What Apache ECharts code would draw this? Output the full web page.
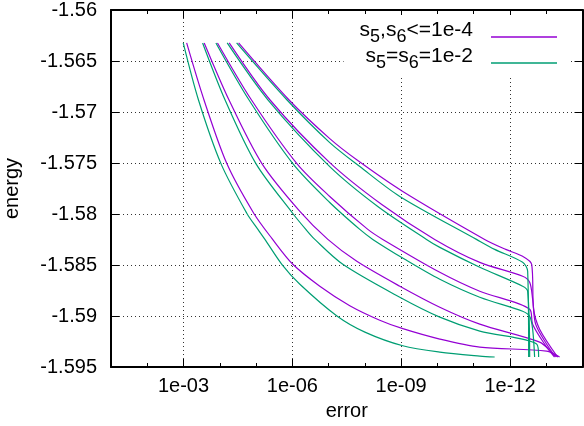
<!DOCTYPE html>
<html>
<head>
<meta charset="utf-8">
<script src="https://cdn.jsdelivr.net/npm/echarts@6/dist/echarts.min.js"></script>
<style>
html, body { margin: 0; padding: 0; background: #fff; }
#graph { width: 584px; height: 426px; }
</style>
</head>
<body>
<div id="graph"></div>
<script>
var chart = echarts.init(document.getElementById('graph'));

var legendNames = ['s5,s6<=1e-4', 's5=s6=1e-2'];
var colors = ['#9400d3', '#009e73'];
var font = 'Liberation Sans, Arial, sans-serif';

// x ticks (log axis, 1e-1 on the left)
var majorTicks = [1e-3, 1e-6, 1e-9, 1e-12];
var minorTicks = [1e-2, 1e-3, 1e-4, 1e-5, 1e-6, 1e-7, 1e-8, 1e-9, 1e-10, 1e-11, 1e-12, 1e-13];

// [error, energy]
var purple1 = [[8.2e-4, -1.56323], [2.74e-4, -1.5688], [6.4e-5, -1.57506], [1.15e-5, -1.57995], [3.67e-6, -1.58239],
    [9.7e-7, -1.58493], [1.75e-7, -1.58708], [2.61e-8, -1.58899],
    [3.89e-9, -1.59041], [9.0e-10, -1.59124], [8.6e-11, -1.59226], [6.8e-12, -1.59305], [9.8e-14, -1.59344], [4.28e-14, -1.59402]];
var purple2 = [[2.69e-4, -1.56323], [5.61e-5, -1.5688], [6.9e-6, -1.57506], [6.2e-7, -1.57975],
    [1.05e-7, -1.58249], [1.67e-8, -1.58464], [1.09e-9, -1.58708], [8.6e-11, -1.58914], [6.8e-12, -1.5908],
    [1.52e-13, -1.59256], [7.1e-14, -1.59354], [4.85e-14, -1.59402]];
var purple3 = [[1.16e-4, -1.56323], [1.35e-5, -1.5688], [7.5e-7, -1.57506], [9.3e-8, -1.57828],
    [8.3e-9, -1.58151], [3.21e-9, -1.58249], [8.6e-11, -1.58571], [6.8e-12, -1.58757], [2.86e-13, -1.58933],
    [2.37e-13, -1.5908], [1.11e-13, -1.59275], [5.9e-14, -1.59402]];
var purple4 = [[5.5e-5, -1.56323], [4.17e-6, -1.5688], [9.3e-8, -1.57496], [3.42e-9, -1.57907],
    [1.19e-10, -1.58249], [6.8e-12, -1.58474], [4.47e-13, -1.5861], [2.86e-13, -1.58669], [2.37e-13, -1.58835],
    [1.96e-13, -1.5908], [9.8e-14, -1.59275], [5.5e-14, -1.59402]];
var purple5 = [[3.03e-5, -1.56323], [1.25e-6, -1.5688], [9.3e-8, -1.57261], [1.57e-8, -1.57476],
    [9.0e-10, -1.57779], [4.98e-12, -1.58249], [1.31e-12, -1.58347], [4.47e-13, -1.58415], [2.52e-13, -1.58493],
    [2.22e-13, -1.58933], [1.52e-13, -1.59129], [4.85e-14, -1.59402]];

var green1 = [[1.02e-3, -1.56323], [3.89e-4, -1.5688], [9.3e-5, -1.57506], [1.79e-5, -1.57995],
    [8.9e-6, -1.58151], [5.7e-6, -1.58249], [1.95e-6, -1.58493], [6.2e-7, -1.58689], [5.9e-8, -1.5900],
    [1.0e-8, -1.59158], [9.0e-10, -1.59292], [8.6e-11, -1.59354], [6.8e-12, -1.59393], [2.64e-12, -1.59402]];
var green2 = [[2.98e-4, -1.56323], [7.2e-5, -1.5688], [1.01e-5, -1.57506], [9.7e-7, -1.57995],
    [4.25e-7, -1.58151], [2.4e-7, -1.58249], [4.06e-8, -1.58493], [1.09e-9, -1.58816], [8.6e-11, -1.59011],
    [6.8e-12, -1.59148], [1.84e-13, -1.59275], [1.62e-13, -1.59402]];
var green3 = [[1.28e-4, -1.56323], [1.58e-5, -1.5688], [9.7e-7, -1.57506], [9.3e-8, -1.57887],
    [1.38e-8, -1.58151], [6.05e-9, -1.58249], [7.96e-10, -1.58444], [8.6e-11, -1.5864], [6.8e-12, -1.58816],
    [4.47e-13, -1.58953], [2.86e-13, -1.59002], [2.37e-13, -1.59129], [2.09e-13, -1.59402]];
var green4 = [[6.25e-5, -1.56323], [4.73e-6, -1.5688], [9.3e-8, -1.57535], [4.41e-9, -1.57926],
    [2.0e-10, -1.58249], [8.6e-11, -1.58327], [6.8e-12, -1.58522], [4.47e-13, -1.58708], [3.25e-13, -1.58757],
    [2.86e-13, -1.59402]];
var green5 = [[3.44e-5, -1.56323], [1.42e-6, -1.5688], [9.3e-8, -1.573], [1.38e-8, -1.57535],
    [1.09e-9, -1.57828], [8.4e-12, -1.58249], [2.64e-12, -1.58347], [4.47e-13, -1.58474], [3.25e-13, -1.58562],
    [3.05e-13, -1.59402]];

var purples = [purple1, purple2, purple3, purple4, purple5];
var greens = [green1, green2, green3, green4, green5];

var black = '#000';
var gridStyle = { color: '#333', width: 1, type: [1, 3] };

function logAxis(pos, ticks, len, main) {
    return {
        type: 'log', logBase: 10, inverse: true, min: 1e-14, max: 1e-1,
        position: pos,
        axisLine: { show: main, onZero: false, lineStyle: { color: black, width: 2 } },
        axisTick: { show: true, inside: true, length: len, customValues: ticks, lineStyle: { color: black, width: 1 } },
        axisLabel: {
            show: main && pos === 'bottom', customValues: ticks, margin: 9,
            color: black, fontSize: 20, fontFamily: font,
            formatter: function (v) {
                var e = -Math.round(Math.log10(v));
                return '1e-' + (e < 10 ? '0' + e : e);
            }
        },
        splitLine: { show: main && pos === 'bottom', lineStyle: gridStyle },
        name: main && pos === 'bottom' ? 'error' : '',
        nameLocation: 'middle', nameGap: 34,
        nameTextStyle: { color: black, fontSize: 20, fontFamily: font }
    };
}

function valueAxis(pos) {
    var left = pos === 'left';
    return {
        type: 'value', min: -1.595, max: -1.56, interval: 0.005, position: pos,
        axisLine: { show: true, lineStyle: { color: black, width: 2 } },
        axisTick: { show: true, inside: true, length: 8, lineStyle: { color: black, width: 1 } },
        axisLabel: { show: left, margin: 14, color: black, fontSize: 20, fontFamily: font },
        splitLine: { show: left, lineStyle: gridStyle },
        name: left ? 'energy' : '',
        nameLocation: 'middle', nameRotate: 90, nameGap: 89,
        nameTextStyle: { color: black, fontSize: 20, fontFamily: font }
    };
}

var series = [];
purples.forEach(function (d) {
    series.push({ name: legendNames[0], type: 'line', data: d, symbol: 'none', smooth: 0.3,
        lineStyle: { color: colors[0], width: 1.2 }, itemStyle: { color: colors[0] } });
});
greens.forEach(function (d) {
    series.push({ name: legendNames[1], type: 'line', data: d, symbol: 'none', smooth: 0.3,
        lineStyle: { color: colors[1], width: 1.2 }, itemStyle: { color: colors[1] } });
});

option = {
    animation: false,
    backgroundColor: '#fff',
    grid: { left: 111, right: 1.5, top: 10, bottom: 59, containLabel: false, outerBoundsMode: 'none' },
    legend: {
        data: legendNames,
        orient: 'vertical', right: 14, top: 15, align: 'right',
        icon: 'rect', itemWidth: 66, itemHeight: 1.5, itemGap: 0,
        padding: [5, 13, 3, 16],
        backgroundColor: '#fff',
        selectedMode: false,
        formatter: function (name) {
            return '{n|' + name.replace(/s(\d)/g, 's}{s|$1}{n|') + '}{g| }';
        },
        textStyle: {
            color: black, fontFamily: font,
            rich: {
                n: { fontSize: 21, lineHeight: 18, padding: [0, 0, 5, 0], verticalAlign: 'bottom', color: black, fontFamily: font },
                s: { fontSize: 18, lineHeight: 17, verticalAlign: 'bottom', color: black, fontFamily: font },
                g: { width: 13, fontSize: 10 }
            }
        }
    },
    xAxis: [
        logAxis('bottom', majorTicks, 8, true),
        logAxis('bottom', minorTicks, 4, false),
        logAxis('top', majorTicks, 8, true),
        logAxis('top', minorTicks, 4, false)
    ],
    yAxis: [valueAxis('left'), valueAxis('right')],
    series: series
};

option && chart.setOption(option);
</script>
</body>
</html>
